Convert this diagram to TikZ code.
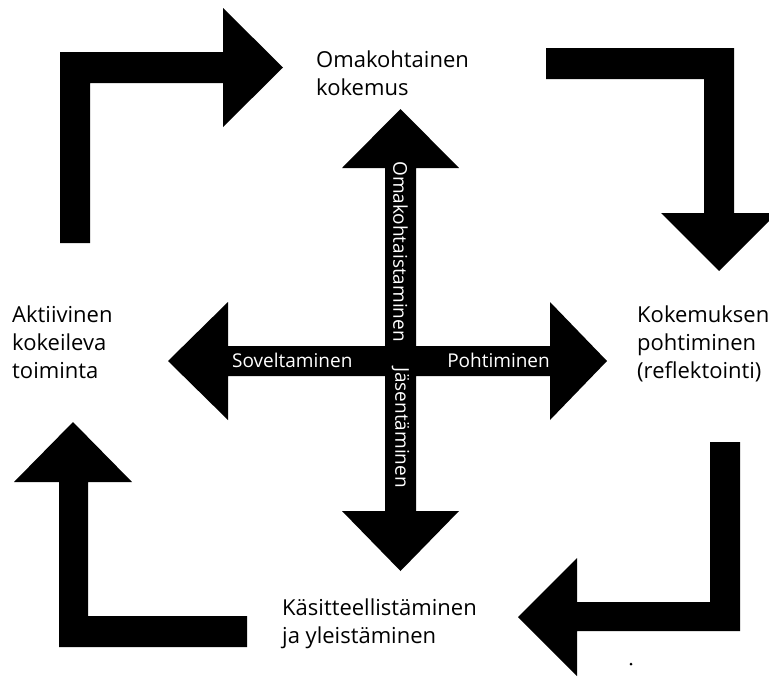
\documentclass[tikz,border=0pt]{standalone}
\usepackage{fontspec}
\setmainfont{Open Sans}
\begin{document}
\begin{tikzpicture}[x=1pt,y=-1pt,
  blockarrow/.style={fill=black,draw=none},
  maintext/.style={inner sep=0pt,anchor=base west,font=\fontsize{22}{28}\selectfont},
  bartext/.style={inner sep=0pt,text=white,font=\fontsize{19}{23}\selectfont}]
\useasboundingbox (0,0) rectangle (769,678);

% bent arrows of the cycle
\fill[blockarrow] (60,243) -- (60,52) -- (223,52) -- (223,8) -- (283,67.5) -- (223,127) -- (223,83) -- (90,83) -- (90,243) -- cycle;
\fill[blockarrow] (546,48) -- (734,48) -- (734,213) -- (777,213) -- (719,271) -- (661,213) -- (704,213) -- (704,79) -- (546,79) -- cycle;
\fill[blockarrow] (740,442) -- (740,631) -- (577,631) -- (577,676) -- (518,617) -- (577,558) -- (577,602) -- (710,602) -- (710,442) -- cycle;
\fill[blockarrow] (59,647) -- (59,482) -- (14,482) -- (73,422) -- (132,482) -- (88,482) -- (88,616) -- (247,616) -- (247,647) -- cycle;

% central cross
\fill[blockarrow] (385,168) -- (342,168) -- (400.5,109) -- (459,168) -- (416,168) -- (416,346) -- (550,346) -- (550,302) -- (607,361) -- (550,420) -- (550,376) -- (416,376) -- (416,511) -- (459,511) -- (400.5,571) -- (342,511) -- (385,511) -- (385,376) -- (228,376) -- (228,420) -- (168,361) -- (228,302) -- (228,346) -- (385,346) -- cycle;

% labels in the cross
\node[bartext,anchor=base west] (sov) at (232,367) {Soveltaminen};
\node[bartext,anchor=base east] (poh) at (550,367) {Pohtiminen};
\node[bartext,rotate=-90,anchor=west] (oma) at (400.5,161) {Omakohtaistaminen};
\node[bartext,rotate=-90,anchor=west] (jas) at (400.5,367) {Jäsentäminen};

% stage texts
\node[maintext] (kok) at (316,67) {\begin{tabular}[t]{@{}l@{}}Omakohtainen\\kokemus\end{tabular}};
\node[maintext] (akt) at (12,322) {\begin{tabular}[t]{@{}l@{}}Aktiivinen\\kokeileva\\toiminta\end{tabular}};
\node[maintext] (ref) at (637,322) {\begin{tabular}[t]{@{}l@{}}Kokemuksen\\pohtiminen\\(reflektointi)\end{tabular}};
\node[maintext] (kas) at (282,615) {\begin{tabular}[t]{@{}l@{}}Käsitteellistäminen\\ja yleistäminen\end{tabular}};

\fill (631,664) circle (1.5);
\end{tikzpicture}
\end{document}
